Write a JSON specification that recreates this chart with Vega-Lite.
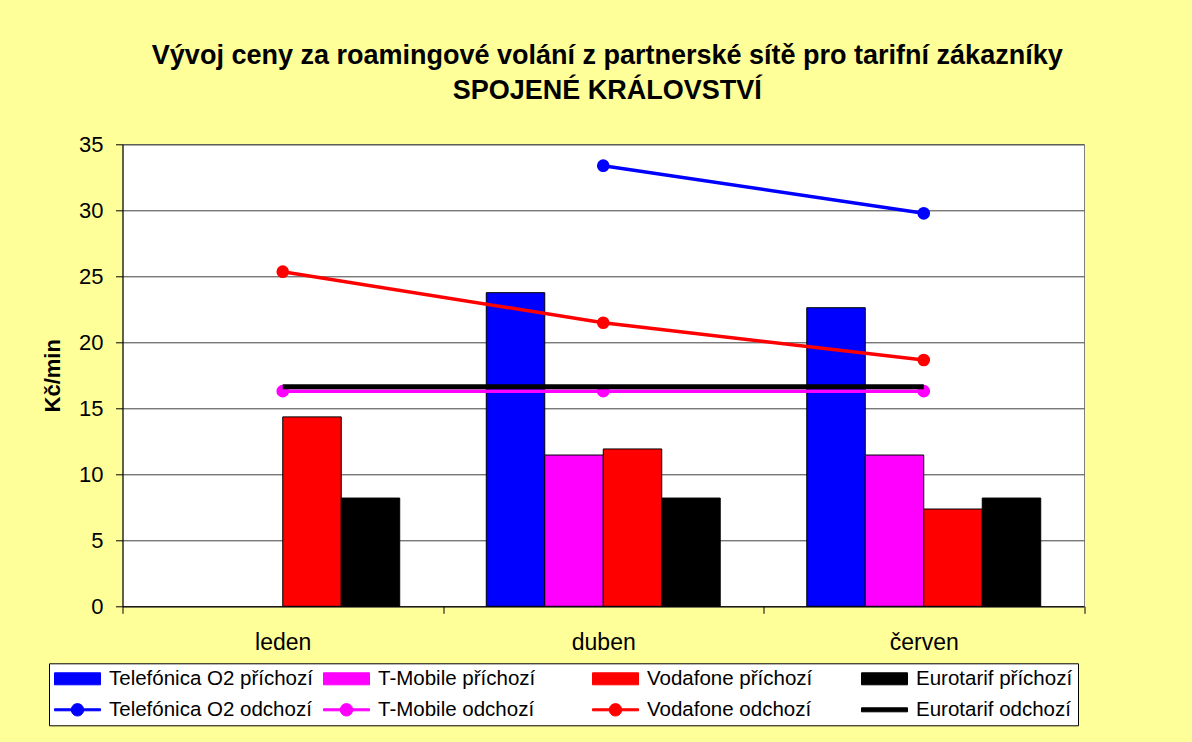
{
  "$schema": "https://vega.github.io/schema/vega-lite/v6.json",
  "width": 961.5,
  "height": 462,
  "autosize": {"type": "none"},
  "padding": {"left": 122.5, "top": 144.3, "right": 108, "bottom": 135.7},
  "background": "#FFFF99",
  "title": {
    "text": ["Vývoj ceny za roamingové volání z partnerské sítě pro tarifní zákazníky", "SPOJENÉ KRÁLOVSTVÍ"],
    "font": "Liberation Sans",
    "fontSize": 27,
    "fontWeight": "bold",
    "color": "black",
    "anchor": "middle",
    "frame": "group",
    "lineHeight": 35,
    "offset": 28,
    "dx": 4
  },
  "config": {
    "view": {"stroke": "#808080", "fill": "white", "strokeWidth": 1},
    "axis": {"labelFont": "Liberation Sans", "titleFont": "Liberation Sans", "labelColor": "black", "titleColor": "black", "domainColor": "black", "tickColor": "black"}
  },
  "datasets": {
    "bars": [
      {"month": "leden", "series": "Vodafone příchozí", "value": 14.35},
      {"month": "leden", "series": "Eurotarif příchozí", "value": 8.2},
      {"month": "duben", "series": "Telefónica O2 příchozí", "value": 23.76},
      {"month": "duben", "series": "T-Mobile příchozí", "value": 11.46},
      {"month": "duben", "series": "Vodafone příchozí", "value": 11.92},
      {"month": "duben", "series": "Eurotarif příchozí", "value": 8.2},
      {"month": "červen", "series": "Telefónica O2 příchozí", "value": 22.62},
      {"month": "červen", "series": "T-Mobile příchozí", "value": 11.46},
      {"month": "červen", "series": "Vodafone příchozí", "value": 7.37},
      {"month": "červen", "series": "Eurotarif příchozí", "value": 8.2}
    ],
    "lines": [
      {"month": "duben", "series": "Telefónica O2 odchozí", "value": 33.38},
      {"month": "červen", "series": "Telefónica O2 odchozí", "value": 29.77},
      {"month": "leden", "series": "T-Mobile odchozí", "value": 16.3},
      {"month": "duben", "series": "T-Mobile odchozí", "value": 16.3},
      {"month": "červen", "series": "T-Mobile odchozí", "value": 16.3},
      {"month": "leden", "series": "Vodafone odchozí", "value": 25.35},
      {"month": "duben", "series": "Vodafone odchozí", "value": 21.48},
      {"month": "červen", "series": "Vodafone odchozí", "value": 18.66}
    ],
    "euro": [
      {"month": "leden", "series": "Eurotarif odchozí", "value": 16.64},
      {"month": "duben", "series": "Eurotarif odchozí", "value": 16.64},
      {"month": "červen", "series": "Eurotarif odchozí", "value": 16.64}
    ]
  },
  "encoding": {
    "x": {
      "field": "month",
      "type": "nominal",
      "sort": ["leden", "duben", "červen"],
      "scale": {"domain": ["leden", "duben", "červen"], "paddingInner": 0, "paddingOuter": 0},
      "axis": {"title": null, "labelAngle": 0, "tickBand": "extent", "tickSize": 7, "labelFontSize": 23, "labelPadding": 18, "domainColor": "black", "tickColor": "black"}
    },
    "y": {
      "field": "value",
      "type": "quantitative",
      "scale": {"domain": [0, 35], "nice": false},
      "axis": {"values": [0, 5, 10, 15, 20, 25, 30, 35], "grid": true, "gridColor": "#404040", "gridWidth": 1, "tickSize": 7, "labelFontSize": 22, "labelPadding": 12.5, "title": "Kč/min", "titleFontSize": 22, "titleFontWeight": "bold", "titlePadding": 14}
    },
    "color": {
      "field": "series",
      "type": "nominal",
      "scale": {
        "domain": ["Telefónica O2 příchozí", "T-Mobile příchozí", "Vodafone příchozí", "Eurotarif příchozí", "Telefónica O2 odchozí", "T-Mobile odchozí", "Vodafone odchozí", "Eurotarif odchozí"],
        "range": ["#0000FF", "#FF00FF", "#FF0000", "#000000", "#0000FF", "#FF00FF", "#FF0000", "#000000"]
      },
      "legend": {
        "title": null,
        "orient": "none",
        "direction": "horizontal",
        "legendX": -73.5,
        "legendY": 519,
        "columns": 4,
        "gridAlign": "all",
        "columnPadding": 8,
        "rowPadding": 10,
        "padding": 5,
        "strokeColor": "black",
        "fillColor": "white",
        "symbolSize": 400,
        "symbolOffset": 13,
        "symbolStrokeWidth": 1,
        "labelOffset": 21,
        "labelFont": "Liberation Sans",
        "labelFontSize": 20.5,
        "labelColor": "black",
        "labelLimit": 300,
        "encode": {
          "symbols": {
            "update": {
              "shape": {"signal": "indexof(datum.value, 'příchozí') >= 0 ? 'M-2.3,-0.6H2.3V0.6H-2.3Z' : (indexof(datum.value, 'Eurotarif') >= 0 ? 'M-2.3,-0.2H2.3V0.2H-2.3Z' : 'M-2.3,-0.1H2.3V0.1H-2.3ZM0.62,0A0.62,0.62 0 1 1 -0.62,0A0.62,0.62 0 1 1 0.62,0Z')"},
              "fill": {"signal": "scale('color', datum.value)"},
              "stroke": {"signal": "indexof(datum.value, 'příchozí') >= 0 ? 'black' : scale('color', datum.value)"},
              "strokeWidth": {"value": 1},
              "opacity": {"value": 1}
            }
          }
        }
      }
    }
  },
  "layer": [
    {
      "data": {"name": "bars"},
      "mark": {"type": "bar", "stroke": "black", "strokeWidth": 1},
      "encoding": {
        "xOffset": {"field": "series", "type": "nominal", "scale": {"domain": ["Telefónica O2 příchozí", "T-Mobile příchozí", "Vodafone příchozí", "Eurotarif příchozí"], "paddingInner": 0, "paddingOuter": 0.74}}
      }
    },
    {
      "data": {"name": "lines"},
      "mark": {"type": "line", "strokeWidth": 3.5, "point": {"filled": true, "size": 160, "opacity": 1}}
    },
    {
      "data": {"name": "euro"},
      "mark": {"type": "line", "strokeWidth": 5}
    }
  ]
}
